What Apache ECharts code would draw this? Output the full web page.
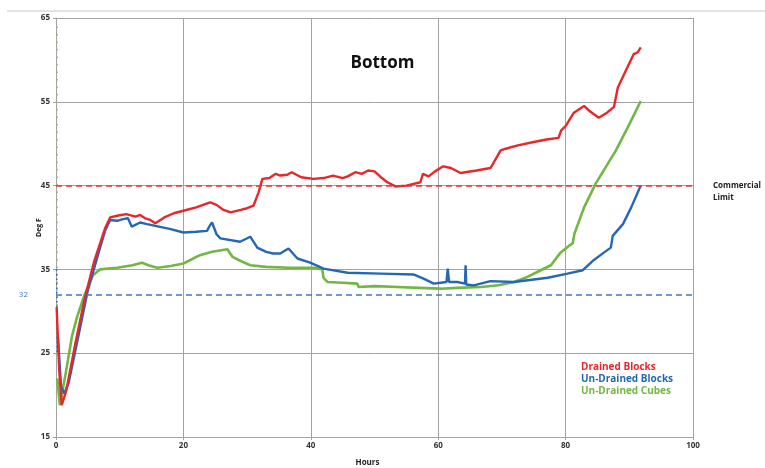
<!DOCTYPE html>
<html>
<head>
<meta charset="utf-8">
<script src="https://cdn.jsdelivr.net/npm/echarts@6/dist/echarts.min.js"></script>
<style>
  html, body { margin: 0; padding: 0; background: #fff; }
  #chart { width: 765px; height: 468px; }
</style>
</head>
<body>
<div id="chart"></div>
<script>
// Temperature logs at the bottom of the load, [hours, deg F]
const drainedBlocks = [
  [0.1, 30.5], [0.5, 23], [0.9, 18.8], [1.6, 20.5], [3, 26], [4.5, 31.5], [6, 36],
  [7.7, 39.9], [8.5, 41.2], [9.6, 41.4], [11, 41.6], [12.5, 41.3], [13.2, 41.5],
  [14, 41.1], [14.8, 40.9], [15.6, 40.5], [17, 41.2], [18.5, 41.7], [20, 42.0],
  [22, 42.4], [24.2, 43.0], [25.2, 42.7], [26.3, 42.1], [27.4, 41.8], [29, 42.1],
  [30, 42.3], [31, 42.6], [31.8, 44.2], [32.4, 45.8], [33.5, 45.9], [34.5, 46.4],
  [35.2, 46.2], [36.3, 46.3], [37, 46.6], [38.5, 46.0], [40.4, 45.8], [42, 45.9],
  [43.5, 46.2], [45, 45.9], [45.8, 46.1], [47, 46.6], [48, 46.4], [49, 46.8],
  [50, 46.7], [51, 46.0], [52, 45.4], [53.3, 44.9], [55, 45.0], [57.2, 45.4],
  [57.6, 46.4], [58.5, 46.1], [59.5, 46.7], [60.8, 47.3], [62, 47.1], [63.5, 46.5],
  [66, 46.8], [68.2, 47.1], [68.6, 47.6], [69.8, 49.2], [70.6, 49.4], [72.5, 49.8],
  [75, 50.2], [77, 50.5], [78.9, 50.7], [79.3, 51.6], [80, 52.1], [81.3, 53.7],
  [82.9, 54.5], [83.6, 54.0], [85.2, 53.1], [86.5, 53.7], [87.6, 54.4], [88.2, 56.7],
  [89.5, 58.8], [90.7, 60.7], [91.3, 60.9], [91.8, 61.5]
];

const undrainedBlocks = [
  [0.3, 27], [0.8, 21], [1.3, 20.2], [2, 21.5], [3.5, 27], [5, 32.5], [6.5, 36.5],
  [7.7, 39.6], [8.5, 40.9], [9.6, 40.8], [10.5, 41.0], [11.3, 41.1], [11.9, 40.1],
  [13.2, 40.6], [14.3, 40.4], [15.6, 40.2], [18, 39.8], [20, 39.4], [22, 39.5],
  [23.7, 39.6], [24.2, 40.3], [24.5, 40.6], [25.2, 39.2], [25.8, 38.7], [28.9, 38.3],
  [30.5, 38.9], [31.6, 37.6], [33, 37.1], [34.1, 36.9], [35.2, 36.9], [36.5, 37.5],
  [37.9, 36.3], [39.9, 35.8], [42, 35.1], [45.8, 34.6], [51, 34.5], [56.1, 34.4],
  [57.7, 33.9], [59.3, 33.3], [61.3, 33.5], [61.5, 35.1], [61.7, 33.5], [63, 33.5],
  [64.2, 33.3], [64.3, 35.5], [64.4, 33.2], [65.6, 33.1], [68.2, 33.6], [71.9, 33.5],
  [77.2, 34.0], [80.3, 34.5], [82.7, 34.9], [84.4, 36.1], [86, 37.0], [87.1, 37.6],
  [87.4, 39.0], [89, 40.4], [90.3, 42.4], [91.8, 45.0]
];

const undrainedCubes = [
  [0.2, 22], [0.6, 18.8], [1.5, 22.5], [2.5, 27], [3.3, 29.3], [4.5, 32], [5.8, 34.3],
  [6.9, 35.0], [9.6, 35.2], [12, 35.5], [13.5, 35.8], [14.5, 35.5], [15.9, 35.2],
  [18, 35.4], [20, 35.7], [22.6, 36.7], [24.5, 37.1], [26.9, 37.4], [27.7, 36.5],
  [29, 36.0], [30.5, 35.5], [33, 35.3], [36.5, 35.2], [40.4, 35.2], [41.8, 35.0],
  [42, 34.0], [42.6, 33.5], [45, 33.4], [47.3, 33.3], [47.5, 32.9], [50, 33.0],
  [53.6, 32.9], [57, 32.8], [60.4, 32.7], [63, 32.8], [66.7, 32.9], [69.5, 33.1],
  [71.9, 33.5], [74, 34.1], [76.1, 34.9], [77.7, 35.5], [79.2, 37.0], [80.5, 37.8],
  [81.1, 38.1], [81.4, 39.3], [82.9, 42.4], [84.7, 45.2], [86.3, 47.2], [87.9, 49.2],
  [90, 52.3], [91.8, 55.1]
];

// Sensor settling readings logged at hour zero
const cubesStartup = [[0.2, 64], [0.2, 30]];
const blocksStartup = [[0.1, 35], [0.2, 25]];

const seriesNames = ['Drained Blocks', 'Un-Drained Blocks', 'Un-Drained Cubes'];
const seriesColors = ['#e8272b', '#2667b3', '#72b644'];
const xTicks = [0, 20, 40, 60, 80, 100];
const yTicks = [15, 25, 35, 45, 55, 65];
const commercialLimit = 45;
const freezePoint = 32;

const chart = echarts.init(document.getElementById('chart'), null, { renderer: 'canvas' });

const axisText = { color: '#333', fontSize: 8, fontFamily: 'Open Sans', fontWeight: 'bold' };
const gridLine = { show: true, lineStyle: { color: '#a3a3a3', width: 1 } };

chart.setOption({
  backgroundColor: '#fff',
  animation: false,
  title: {
    text: 'Bottom',
    left: 'center',
    top: 50,
    textStyle: { fontFamily: 'Open Sans', fontWeight: 'bold', fontSize: 17, color: '#111' }
  },
  legend: {
    orient: 'vertical',
    left: 571,
    top: 356,
    icon: 'none',
    itemWidth: 0,
    itemHeight: 12,
    itemGap: 1,
    selectedMode: false,
    textStyle: { fontFamily: 'Open Sans', fontWeight: 'bold', fontSize: 10, padding: 0 },
    data: seriesNames.map((n, i) => ({ name: n, textStyle: { color: seriesColors[i] } }))
  },
  grid: { left: 56, right: 72, top: 18, bottom: 31, outerBoundsMode: 'none', containLabel: false },
  xAxis: {
    type: 'value',
    min: xTicks[0],
    max: xTicks[xTicks.length - 1],
    interval: 20,
    name: 'Hours',
    nameLocation: 'middle',
    nameGap: 22,
    nameTextStyle: { fontFamily: 'Open Sans', fontWeight: 'bold', fontSize: 8, color: '#222', padding: [0, 14, 0, 0] },
    axisLine: { lineStyle: { color: '#a3a3a3' } },
    axisTick: { show: true, length: 3, lineStyle: { color: '#a3a3a3' } },
    axisLabel: Object.assign({ margin: 5 }, axisText),
    splitLine: gridLine
  },
  yAxis: {
    type: 'value',
    min: yTicks[0],
    max: yTicks[yTicks.length - 1],
    interval: 10,
    name: 'Deg F',
    nameLocation: 'middle',
    nameRotate: 90,
    nameGap: 14,
    nameMoveOverlap: false,
    nameTextStyle: { fontFamily: 'Open Sans', fontWeight: 'bold', fontSize: 7, color: '#222' },
    axisLine: { show: true, lineStyle: { color: '#a3a3a3' } },
    axisTick: { show: true, length: 3, lineStyle: { color: '#a3a3a3' } },
    axisLabel: Object.assign({ margin: 6 }, axisText),
    splitLine: gridLine
  },
  series: [
    {
      name: seriesNames[0],
      type: 'line',
      data: drainedBlocks,
      showSymbol: false,
      lineStyle: { color: seriesColors[0], width: 2.4 },
      itemStyle: { color: seriesColors[0] },
      z: 4,
      markLine: {
        silent: true,
        symbol: 'none',
        lineStyle: { color: '#de3a3a', type: [6, 4], width: 1.6 },
        label: {
          show: true,
          position: 'end',
          distance: 20,
          formatter: '\nCommercial\nLimit',
          align: 'left',
          fontFamily: 'Open Sans', fontWeight: 'bold', fontSize: 8, color: '#222', lineHeight: 12
        },
        data: [{ yAxis: commercialLimit }]
      }
    },
    {
      name: seriesNames[1],
      type: 'line',
      data: undrainedBlocks,
      showSymbol: false,
      lineStyle: { color: seriesColors[1], width: 2.4 },
      itemStyle: { color: seriesColors[1] },
      z: 3,
      markLine: {
        silent: true,
        symbol: 'none',
        lineStyle: { color: '#4576bd', type: [6, 4], width: 1.6 },
        label: {
          show: true,
          position: 'start',
          distance: 28,
          formatter: String(freezePoint),
          fontFamily: 'Open Sans', fontSize: 8, color: '#4576bd'
        },
        data: [{ yAxis: freezePoint }]
      }
    },
    {
      name: seriesNames[2],
      type: 'line',
      data: undrainedCubes,
      showSymbol: false,
      lineStyle: { color: seriesColors[2], width: 2.6 },
      itemStyle: { color: seriesColors[2] },
      z: 2
    },
    {
      name: 'cubes-startup',
      type: 'line',
      data: cubesStartup,
      showSymbol: false,
      lineStyle: { color: '#a6c24a', width: 1.5, type: [1.5, 6] },
      z: 1
    },
    {
      name: 'blocks-startup',
      type: 'line',
      data: blocksStartup,
      showSymbol: false,
      lineStyle: { color: seriesColors[1], width: 1.5, type: [1.5, 3] },
      z: 1
    }
  ],
  graphic: [{
    type: 'line',
    shape: { x1: 7, y1: 11, x2: 765, y2: 11 },
    style: { stroke: '#c8c8c8', lineWidth: 1 }
  }]
});
</script>
</body>
</html>
